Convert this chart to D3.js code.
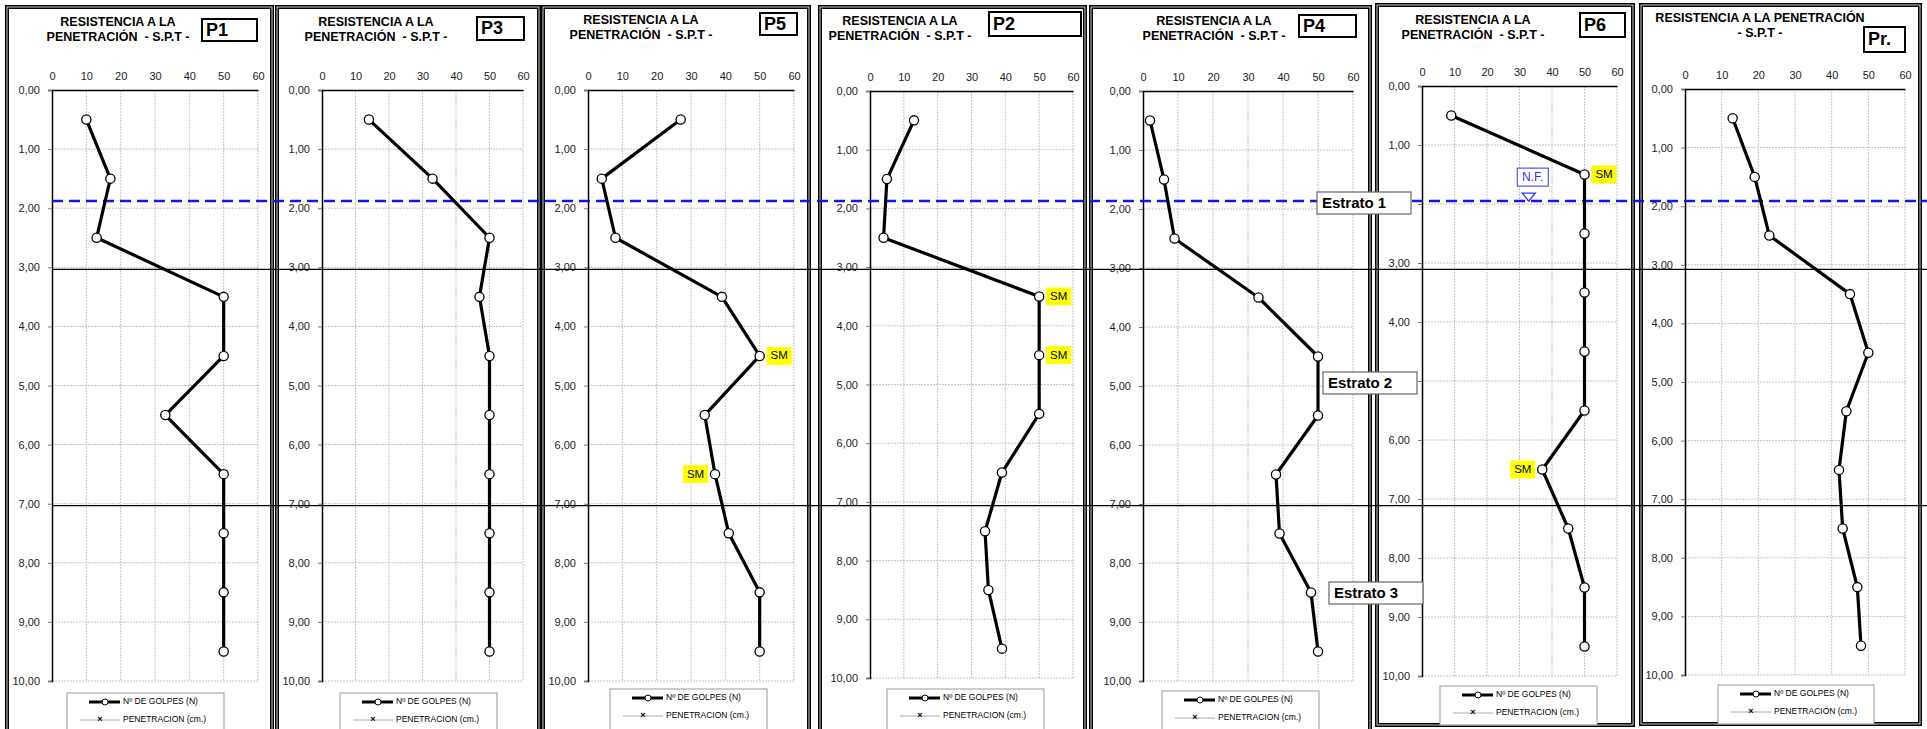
<!DOCTYPE html>
<html>
<head>
<meta charset="utf-8">
<script src="https://cdn.jsdelivr.net/npm/d3@7"></script>
<style>
  body { margin: 0; background: #fff; }
  svg { display: block; font-family: "Liberation Sans", Arial, sans-serif; }
</style>
</head>
<body>
<div id="chart"></div>
<script>
// profundidades de ensayo (m)
const depths = [0.5, 1.5, 2.5, 3.5, 4.5, 5.5, 6.5, 7.5, 8.5, 9.5];

// Nº de golpes por sondeo
const golpesP1 = [10, 17, 13, 50, 50, 33, 50, 50, 50, 50];
const golpesP3 = [14, 33, 50, 47, 50, 50, 50, 50, 50, 50];
const golpesP5 = [27, 4, 8, 39, 50, 34, 37, 41, 50, 50];
const golpesP2 = [13, 5, 4, 50, 50, 50, 39, 34, 35, 39];
const golpesP4 = [2, 6, 9, 33, 50, 50, 38, 39, 48, 50];
const golpesP6 = [9, 50, 50, 50, 50, 50, 37, 45, 50, 50];
const golpesPr = [13, 19, 23, 45, 50, 44, 42, 43, 47, 48];

const xTicks = [0, 10, 20, 30, 40, 50, 60];
const yTicks = [0, 1, 2, 3, 4, 5, 6, 7, 8, 9, 10];

// etiquetas SM (panel, profundidad, lado)
const smPanels = ["P5", "P5", "P2", "P2", "P6", "P6"];
const smDepths = [4.5, 6.5, 3.5, 4.5, 1.5, 6.5];
const smSides = ["r", "l", "r", "r", "r", "l"];

const strataNames = ["Estrato 1", "Estrato 2", "Estrato 3"];
const strataLimits = [3, 7];
const nivelFreatico = 1.88;

const W = 1927, H = 729;

// geometria de cada panel (marco, area del grafico, titulo, caja, leyenda)
const panels = [
  {name: "P1", data: golpesP1, frame: [7, 272, 7, 740], plot: [52, 258, 90, 681],
   tx: 118, ty: [23, 38], box: [202, 257, 19, 41], leg: [67, 224, 693]},
  {name: "P3", data: golpesP3, frame: [277, 539, 7, 740], plot: [322, 523, 90, 681],
   tx: 376, ty: [23, 38], box: [477, 524, 17, 40], leg: [340, 497, 693]},
  {name: "P5", data: golpesP5, frame: [543, 809, 7, 740], plot: [588, 794, 90, 681],
   tx: 641, ty: [21, 36], box: [760, 797, 13, 35], leg: [610, 767, 689]},
  {name: "P2", data: golpesP2, frame: [820, 1085, 7, 740], plot: [870, 1073, 91, 678],
   tx: 900, ty: [22, 37], box: [989, 1081, 12, 36], leg: [887, 1044, 689]},
  {name: "P4", data: golpesP4, frame: [1091, 1370, 7, 740], plot: [1143, 1353, 91, 681],
   tx: 1214, ty: [22, 37], box: [1299, 1356, 15, 37], leg: [1162, 1319, 691]},
  {name: "P6", data: golpesP6, frame: [1377, 1633, 5, 725], plot: [1422, 1617, 86, 676],
   tx: 1473, ty: [21, 36], box: [1580, 1625, 13, 37], leg: [1440, 1597, 686]},
  {name: "Pr.", data: golpesPr, frame: [1641, 1920, 5, 724], plot: [1685, 1905, 89, 675],
   tx: 1760, ty: [19, 34], box: [1864, 1905, 27, 52], leg: [1718, 1874, 685], oneLine: true}
];

const svg = d3.select("#chart").append("svg")
  .attr("width", W).attr("height", H);

const fmt = d => d3.format(".2f")(d).replace(".", ",");

panels.forEach(p => {
  const g = svg.append("g");
  const x = d3.scaleLinear().domain([0, 60]).range([p.plot[0], p.plot[1]]);
  const y = d3.scaleLinear().domain([0, 10]).range([p.plot[2], p.plot[3]]);
  p.x = x; p.y = y;

  // marco (doble linea)
  g.append("rect")
    .attr("x", p.frame[0]).attr("y", p.frame[2])
    .attr("width", p.frame[1] - p.frame[0]).attr("height", p.frame[3] - p.frame[2])
    .attr("fill", "none").attr("stroke", "#000").attr("stroke-width", 4);
  g.append("rect")
    .attr("x", p.frame[0]).attr("y", p.frame[2])
    .attr("width", p.frame[1] - p.frame[0]).attr("height", p.frame[3] - p.frame[2])
    .attr("fill", "none").attr("stroke", "#fff").attr("stroke-width", 0.8);

  // titulo
  const lines = p.oneLine ? ["RESISTENCIA A LA PENETRACIÓN", "- S.P.T -"]
                          : ["RESISTENCIA A LA", "PENETRACIÓN  - S.P.T -"];
  g.selectAll("text.title").data(lines).enter().append("text")
    .attr("x", p.tx).attr("y", (d, i) => p.ty[i])
    .attr("text-anchor", "middle").attr("font-size", 12.5).attr("font-weight", "bold")
    .attr("dominant-baseline", "middle").style("white-space", "pre")
    .text(d => d);

  // caja con nombre del sondeo
  g.append("rect")
    .attr("x", p.box[0]).attr("y", p.box[2])
    .attr("width", p.box[1] - p.box[0]).attr("height", p.box[3] - p.box[2])
    .attr("fill", "#fff").attr("stroke", "#000").attr("stroke-width", 2);
  g.append("text")
    .attr("x", p.box[0] + 4).attr("y", (p.box[2] + p.box[3]) / 2 + 1)
    .attr("dominant-baseline", "middle").attr("font-size", 18).attr("font-weight", "bold")
    .text(p.name);

  // grilla
  g.selectAll("line.vg").data(xTicks.slice(1)).enter().append("line")
    .attr("x1", d => x(d)).attr("x2", d => x(d))
    .attr("y1", p.plot[2]).attr("y2", p.plot[3])
    .attr("stroke", "#aaa").attr("stroke-width", 0.7).attr("stroke-dasharray", "2,1");
  g.selectAll("line.hg").data(yTicks.slice(1)).enter().append("line")
    .attr("x1", p.plot[0]).attr("x2", p.plot[1])
    .attr("y1", d => y(d)).attr("y2", d => y(d))
    .attr("stroke", "#aaa").attr("stroke-width", 0.7).attr("stroke-dasharray", "2,1");

  // ejes
  g.append("g").attr("transform", `translate(0,${p.plot[2]})`)
    .call(d3.axisTop(x).tickValues(xTicks).tickSize(0).tickPadding(10).tickFormat(d3.format("d")))
    .call(a => a.select(".domain").attr("stroke", "#000").attr("stroke-width", 1.5))
    .call(a => a.selectAll("text").attr("font-size", 11).attr("fill", "#222")
      .attr("font-family", "Liberation Sans, Arial, sans-serif"));
  g.append("g").attr("transform", `translate(${p.plot[0]},0)`)
    .call(d3.axisLeft(y).tickValues(yTicks).tickSize(4).tickPadding(8).tickFormat(fmt))
    .call(a => a.select(".domain").attr("stroke", "#000").attr("stroke-width", 1.5))
    .call(a => a.selectAll(".tick line").attr("stroke", "#777"))
    .call(a => a.selectAll("text").attr("font-size", 11).attr("fill", "#222")
      .attr("font-family", "Liberation Sans, Arial, sans-serif"));

  // leyenda
  const lx = p.leg[0], ly = p.leg[2];
  const lg = g.append("g");
  lg.append("rect").attr("x", lx).attr("y", ly)
    .attr("width", p.leg[1] - lx).attr("height", p.frame[3] - ly)
    .attr("fill", "#fff").attr("stroke", "#999").attr("stroke-width", 1);
  lg.append("line").attr("x1", lx + 22).attr("x2", lx + 53).attr("y1", ly + 9).attr("y2", ly + 9)
    .attr("stroke", "#000").attr("stroke-width", 3);
  lg.append("circle").attr("cx", lx + 38).attr("cy", ly + 9).attr("r", 3)
    .attr("fill", "#fff").attr("stroke", "#000").attr("stroke-width", 1);
  lg.append("text").attr("x", lx + 56).attr("y", ly + 9).attr("dominant-baseline", "middle")
    .attr("font-size", 8.5).text("Nº DE GOLPES (N)");
  lg.append("line").attr("x1", lx + 13).attr("x2", lx + 53).attr("y1", ly + 27).attr("y2", ly + 27)
    .attr("stroke", "#aaa").attr("stroke-width", 1);
  lg.append("text").attr("x", lx + 33).attr("y", ly + 27).attr("text-anchor", "middle")
    .attr("dominant-baseline", "middle").attr("font-size", 9).attr("font-weight", "bold").text("×");
  lg.append("text").attr("x", lx + 56).attr("y", ly + 27).attr("dominant-baseline", "middle")
    .attr("font-size", 8.5).text("PENETRACION (cm.)");
});

// lineas horizontales comunes (usa la escala de P1)
const yRef = panels[0].y;
svg.selectAll("line.estrato").data(strataLimits).enter().append("line")
  .attr("x1", panels[0].plot[0]).attr("x2", W)
  .attr("y1", d => yRef(d) + 2).attr("y2", d => yRef(d) + 2)
  .attr("stroke", "#000").attr("stroke-width", 1.3);
svg.append("line")
  .attr("x1", panels[0].plot[0]).attr("x2", W)
  .attr("y1", yRef(nivelFreatico)).attr("y2", yRef(nivelFreatico))
  .attr("stroke", "#1414f0").attr("stroke-width", 2.5).attr("stroke-dasharray", "11,6");

// series
panels.forEach(p => {
  const pts = depths.map((d, i) => [p.x(p.data[i]), p.y(d)]);
  svg.append("path").attr("d", d3.line()(pts))
    .attr("fill", "none").attr("stroke", "#000").attr("stroke-width", 3.2)
    .attr("stroke-linejoin", "round");
  svg.append("g").selectAll("circle").data(pts).enter().append("circle")
    .attr("cx", d => d[0]).attr("cy", d => d[1]).attr("r", 4.6)
    .attr("fill", "#fff").attr("stroke", "#000").attr("stroke-width", 1.3);
});

// etiquetas SM
smPanels.forEach((name, i) => {
  const p = panels.find(q => q.name === name);
  const k = depths.indexOf(smDepths[i]);
  const cx = p.x(p.data[k]), cy = p.y(smDepths[i]);
  const bx = smSides[i] === "r" ? cx + 7 : cx - 32;
  svg.append("rect").attr("x", bx).attr("y", cy - 9).attr("width", 25).attr("height", 18)
    .attr("fill", "#ffff00");
  svg.append("text").attr("x", bx + 12.5).attr("y", cy + 0.5).attr("text-anchor", "middle")
    .attr("dominant-baseline", "middle").attr("font-size", 11.5).text("SM");
});

// nivel freatico N.F.
const p6 = panels[5];
const nfx = p6.x(33);
const nfy = yRef(nivelFreatico);
svg.append("rect").attr("x", nfx - 12).attr("y", nfy - 33).attr("width", 31).attr("height", 18)
  .attr("fill", "#fff").attr("stroke", "#3030ff").attr("stroke-width", 1);
svg.append("text").attr("x", nfx + 3.5).attr("y", nfy - 23.5).attr("text-anchor", "middle")
  .attr("dominant-baseline", "middle").attr("font-size", 12).attr("fill", "#3030ff").text("N.F.");
svg.append("path")
  .attr("d", `M${nfx - 7},${nfy - 8} L${nfx + 6},${nfy - 8} L${nfx - 0.5},${nfy}Z`)
  .attr("fill", "#fff").attr("stroke", "#3030ff").attr("stroke-width", 1.3);

// cajas de estratos
const strataBoxes = [[1317, 192], [1323, 372], [1329, 582]];
strataNames.forEach((s, i) => {
  const [bx, by] = strataBoxes[i];
  svg.append("rect").attr("x", bx).attr("y", by).attr("width", 94).attr("height", 22)
    .attr("fill", "#fff").attr("stroke", "#666").attr("stroke-width", 1.2);
  svg.append("text").attr("x", bx + 5).attr("y", by + 12).attr("dominant-baseline", "middle")
    .attr("font-size", 15).attr("font-weight", "bold").text(s);
});
</script>
</body>
</html>
